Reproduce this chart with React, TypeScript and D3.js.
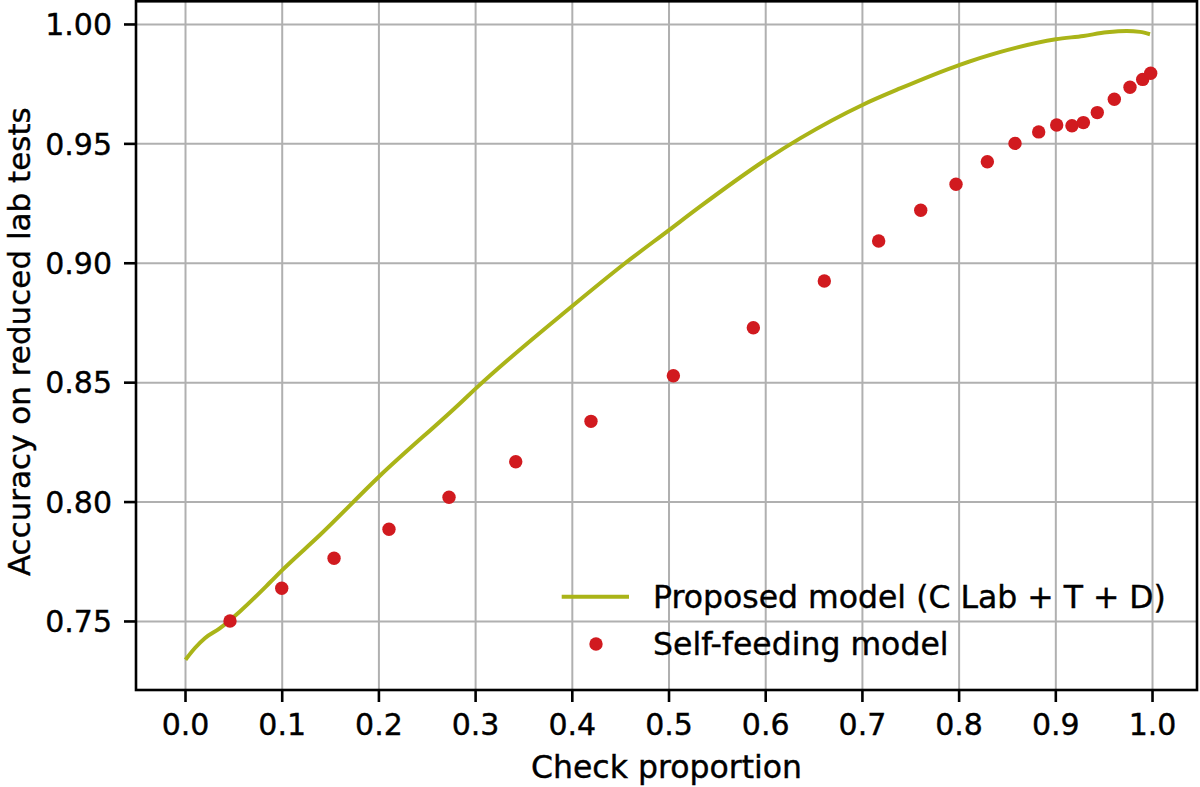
import React from "react";
import * as d3 from "d3";

const lineX = [0.0, 0.01, 0.02, 0.035, 0.056, 0.087, 0.1, 0.139, 0.2, 0.284, 0.3, 0.4, 0.4545, 0.5, 0.532, 0.6, 0.6355, 0.7, 0.739, 0.8, 0.842, 0.9, 0.9285, 0.9526, 0.9733, 0.9871, 0.9974];
const lineY = [0.734, 0.739, 0.743, 0.747, 0.7541, 0.7662, 0.7715, 0.7862, 0.8106, 0.8414, 0.8475, 0.8821, 0.9, 0.9139, 0.9237, 0.9433, 0.9523, 0.9663, 0.9732, 0.983, 0.9884, 0.9938, 0.9952, 0.9967, 0.9973, 0.9969, 0.9959];

const dotX = [0.046, 0.0995, 0.1536, 0.2104, 0.2725, 0.3415, 0.4193, 0.5045, 0.5872, 0.6606, 0.7168, 0.7603, 0.7968, 0.8292, 0.8578, 0.8823, 0.9009, 0.9167, 0.9285, 0.9429, 0.9605, 0.9767, 0.9898, 0.9981];
const dotY = [0.7502, 0.7639, 0.7765, 0.7886, 0.802, 0.8169, 0.8338, 0.8529, 0.873, 0.8926, 0.9093, 0.9222, 0.9331, 0.9425, 0.9502, 0.955, 0.9579, 0.9576, 0.9589, 0.9631, 0.9687, 0.9737, 0.977, 0.9796];

const xTicks = [0, 0.1, 0.2, 0.3, 0.4, 0.5, 0.6, 0.7, 0.8, 0.9, 1.0];
const yTicks = [0.75, 0.8, 0.85, 0.9, 0.95, 1.0];

const seriesNames = ["Proposed model (C Lab + T + D)", "Self-feeding model"];
const xLabel = "Check proportion";
const yLabel = "Accuracy on reduced lab tests";

const LINE_COLOR = "#aab418";
const DOT_COLOR = "#d11a1f";
const FONT = "'DejaVu Sans', sans-serif";

export default function App() {
  const left = 136, right = 1197, top = 1.3, bottom = 690;
  const x = d3.scaleLinear().domain([-0.0512, 1.046]).range([left, right]);
  const y = d3.scaleLinear().domain([0.7213, 1.0097]).range([bottom, top]);
  const pts: [number, number][] = lineX.map((v, i) => [v, lineY[i]]);
  const linePath = d3.line<[number, number]>().x(d => x(d[0])).y(d => y(d[1])).curve(d3.curveMonotoneX)(pts) || "";
  const txt = { fill: "#000", stroke: "#000", strokeWidth: 0.4 };

  return (
    <svg width={1200} height={787} style={{ position: "absolute", left: 0, top: 0, background: "#fff" }} fontFamily={FONT}>
      <rect x={0} y={0} width={1200} height={787} fill="#fff" />
      {xTicks.map(t => (
        <line key={"gx" + t} x1={x(t)} x2={x(t)} y1={top} y2={bottom} stroke="#b0b0b0" strokeWidth={2} />
      ))}
      {yTicks.map(t => (
        <line key={"gy" + t} x1={left} x2={right} y1={y(t)} y2={y(t)} stroke="#b0b0b0" strokeWidth={2} />
      ))}
      <path d={linePath} fill="none" stroke={LINE_COLOR} strokeWidth={4} strokeLinejoin="round" strokeLinecap="butt" />
      {dotX.map((v, i) => (
        <circle key={"d" + i} cx={x(v)} cy={y(dotY[i])} r={6.7} fill={DOT_COLOR} />
      ))}
      <rect x={left} y={top} width={right - left} height={bottom - top} fill="none" stroke="#000" strokeWidth={2.6} />
      {xTicks.map(t => (
        <g key={"tx" + t}>
          <line x1={x(t)} x2={x(t)} y1={bottom} y2={bottom + 12} stroke="#000" strokeWidth={2.6} />
          <text x={x(t)} y={735} textAnchor="middle" fontSize={30} {...txt}>{t.toFixed(1)}</text>
        </g>
      ))}
      {yTicks.map(t => (
        <g key={"ty" + t}>
          <line x1={left - 12} x2={left} y1={y(t)} y2={y(t)} stroke="#000" strokeWidth={2.6} />
          <text x={112} y={y(t)} dy="0.36em" textAnchor="end" fontSize={30} {...txt}>{t.toFixed(2)}</text>
        </g>
      ))}
      <text x={(left + right) / 2} y={778} textAnchor="middle" fontSize={31.5} {...txt}>{xLabel}</text>
      <text transform={`translate(30, ${(top + bottom) / 2 - 4}) rotate(-90)`} textAnchor="middle" fontSize={31} {...txt}>{yLabel}</text>
      <line x1={561.7} x2={629} y1={596.7} y2={596.7} stroke={LINE_COLOR} strokeWidth={4} />
      <text x={653} y={596.7} dy="0.36em" fontSize={31.5} {...txt}>{seriesNames[0]}</text>
      <circle cx={596} cy={644} r={6.7} fill={DOT_COLOR} />
      <text x={653} y={644} dy="0.36em" fontSize={31.5} {...txt}>{seriesNames[1]}</text>
    </svg>
  );
}
